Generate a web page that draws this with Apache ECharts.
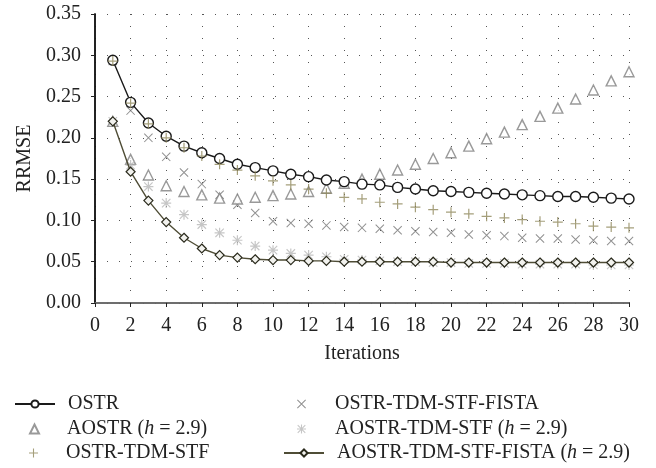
<!DOCTYPE html>
<html>
<head>
<meta charset="utf-8">
<script src="https://cdn.jsdelivr.net/npm/echarts@6/dist/echarts.min.js"></script>
<style>html,body{margin:0;padding:0;background:#fff}#c{width:656px;height:468px}</style>
</head>
<body>
<div id="c"></div>
<script>
const iterations = [1,2,3,4,5,6,7,8,9,10,11,12,13,14,15,16,17,18,19,20,21,22,23,24,25,26,27,28,29,30];
const ostr = [0.294,0.243,0.218,0.202,0.190,0.182,0.175,0.168,0.164,0.160,0.156,0.153,0.149,0.147,0.144,0.143,0.140,0.138,0.136,0.135,0.134,0.133,0.132,0.131,0.130,0.129,0.129,0.128,0.127,0.126];
const aostr = [0.220,0.174,0.155,0.142,0.135,0.131,0.127,0.126,0.128,0.130,0.132,0.135,0.139,0.145,0.150,0.156,0.161,0.168,0.175,0.182,0.190,0.199,0.207,0.216,0.226,0.236,0.247,0.258,0.269,0.280];
const ostrTdmStf = [0.293,0.242,0.217,0.200,0.188,0.178,0.168,0.161,0.154,0.148,0.143,0.138,0.133,0.128,0.126,0.122,0.120,0.116,0.113,0.110,0.108,0.105,0.103,0.101,0.099,0.098,0.096,0.093,0.092,0.091];
const ostrTdmStfFista = [0.293,0.233,0.200,0.177,0.158,0.144,0.131,0.119,0.109,0.099,0.097,0.096,0.094,0.092,0.091,0.090,0.088,0.087,0.086,0.085,0.083,0.082,0.081,0.079,0.078,0.078,0.077,0.076,0.075,0.075];
const aostrTdmStf = [0.220,0.167,0.141,0.121,0.107,0.095,0.085,0.076,0.069,0.064,0.060,0.058,0.056,0.053,0.052,0.051,0.050,0.050,0.049,0.049,0.048,0.048,0.048,0.047,0.047,0.047,0.047,0.046,0.046,0.046];
const aostrTdmStfFista = [0.220,0.159,0.124,0.098,0.079,0.066,0.058,0.055,0.053,0.052,0.052,0.051,0.051,0.050,0.050,0.050,0.050,0.050,0.050,0.049,0.049,0.049,0.049,0.049,0.049,0.049,0.049,0.049,0.049,0.049];
const seriesNames = ['OSTR','AOSTR (h = 2.9)','OSTR-TDM-STF','OSTR-TDM-STF-FISTA','AOSTR-TDM-STF (h = 2.9)','AOSTR-TDM-STF-FISTA (h = 2.9)'];
const xTicks = {min:0, max:30, interval:2};
const yTicks = {min:0, max:0.35, interval:0.05};

const pair = arr => iterations.map((x,i)=>[x,arr[i]]);
const PLUS = 'path://M4.4,0H5.6V10H4.4Z M0,4.4H10V5.6H0Z';
const CROSS = 'path://M0.8,0L10,9.2L9.2,10L0,0.8Z M9.2,0L10,0.8L0.8,10L0,9.2Z';
const STAR = 'path://M4.4,0H5.6V10H4.4Z M0,4.4H10V5.6H0Z M1.2,0.4L9.6,8.8L8.8,9.6L0.4,1.2Z M8.8,0.4L9.6,1.2L1.2,9.6L0.4,8.8Z';
const FONT = '"Liberation Serif", "DejaVu Serif", serif';
const FS = 20;

const chart = echarts.init(document.getElementById('c'), null, {renderer:'canvas'});
const dotted = {type:[1,11], color:'#555', width:1};
const labelFmt = v => v.toFixed(2);
const rich = {i:{fontStyle:'italic', fontFamily:FONT, fontSize:FS, color:'#222'}};
const richName = n => n.replace('h =', '{i|h} =');

// legend placement: [name index, left, top, itemWidth, text padding]
const legendSpec = [
  [0, 14, 394, 40, 8],
  [1, 29, 419, 9, 23],
  [2, 29, 443, 9, 23],
  [3, 297, 394, 9, 24],
  [4, 297, 419, 9, 24],
  [5, 283, 443, 40, 8]
];
const legends = legendSpec.map(s => ({
  orient:'horizontal', left:s[1], top:s[2], padding:0,
  itemWidth:s[3], itemHeight:9,
  data:[seriesNames[s[0]]],
  formatter:richName,
  textStyle:{fontFamily:FONT, fontSize:FS, color:'#222', padding:[0,0,0,s[4]], rich:rich}
}));

chart.setOption({
  animation:false,
  textStyle:{fontFamily:FONT},
  grid:{left:95, right:27, top:14, bottom:165},
  xAxis:[{
    type:'value', min:xTicks.min, max:xTicks.max, interval:xTicks.interval,
    name:'Iterations', nameLocation:'middle', nameGap:41,
    nameTextStyle:{fontFamily:FONT, fontSize:FS, color:'#222'},
    axisLine:{show:true, onZero:false, lineStyle:{color:'#222', width:1.5}},
    axisTick:{show:true, length:4, lineStyle:{color:'#222'}},
    axisLabel:{fontFamily:FONT, fontSize:FS, color:'#222', margin:13},
    splitLine:{show:true, lineStyle:dotted}
  },{
    type:'value', position:'top', min:xTicks.min, max:xTicks.max,
    axisLine:{show:true, lineStyle:{color:'#777', width:1.5}},
    axisTick:{show:false}, axisLabel:{show:false}, splitLine:{show:false}
  }],
  yAxis:[{
    type:'value', min:yTicks.min, max:yTicks.max, interval:yTicks.interval,
    name:'RRMSE', nameLocation:'middle', nameGap:52,
    nameTextStyle:{fontFamily:FONT, fontSize:FS, color:'#222'},
    axisLine:{show:true, lineStyle:{color:'#222', width:1.5}},
    axisTick:{show:true, length:4, lineStyle:{color:'#222'}},
    axisLabel:{fontFamily:FONT, fontSize:FS, color:'#222', margin:14, formatter:labelFmt},
    splitLine:{show:true, lineStyle:dotted}
  },{
    type:'value', position:'right', min:yTicks.min, max:yTicks.max,
    axisLine:{show:true, lineStyle:{color:'#111', width:1.5}},
    axisTick:{show:false}, axisLabel:{show:false}, splitLine:{show:false}
  }],
  legend:legends,
  series:[
    {name:seriesNames[3], type:'scatter', data:pair(ostrTdmStfFista), symbol:CROSS, symbolSize:9, itemStyle:{color:'#767676'}, z:2},
    {name:seriesNames[1], type:'scatter', data:pair(aostr), symbol:'triangle', symbolSize:10, itemStyle:{color:'#fff', borderColor:'#808080', borderWidth:1.4}, z:2},
    {name:seriesNames[4], type:'scatter', data:pair(aostrTdmStf), symbol:STAR, symbolSize:10, itemStyle:{color:'#b8b8b8'}, z:2},
    {name:seriesNames[5], type:'line', data:pair(aostrTdmStfFista), symbol:'diamond', symbolSize:9, showSymbol:true,
      lineStyle:{color:'#4f4d36', width:1.4}, itemStyle:{color:'#f2f2ee', borderColor:'#2a2a1c', borderWidth:1.2}, z:3},
    {name:seriesNames[0], type:'line', data:pair(ostr), symbol:'circle', symbolSize:10, showSymbol:true,
      lineStyle:{color:'#1a1a1a', width:1.4}, itemStyle:{color:'#fff', borderColor:'#1a1a1a', borderWidth:1.4}, z:3},
    {name:seriesNames[2], type:'scatter', data:pair(ostrTdmStf), symbol:PLUS, symbolSize:10, itemStyle:{color:'#8f875a'}, z:4}
  ]
});
</script>
</body>
</html>
